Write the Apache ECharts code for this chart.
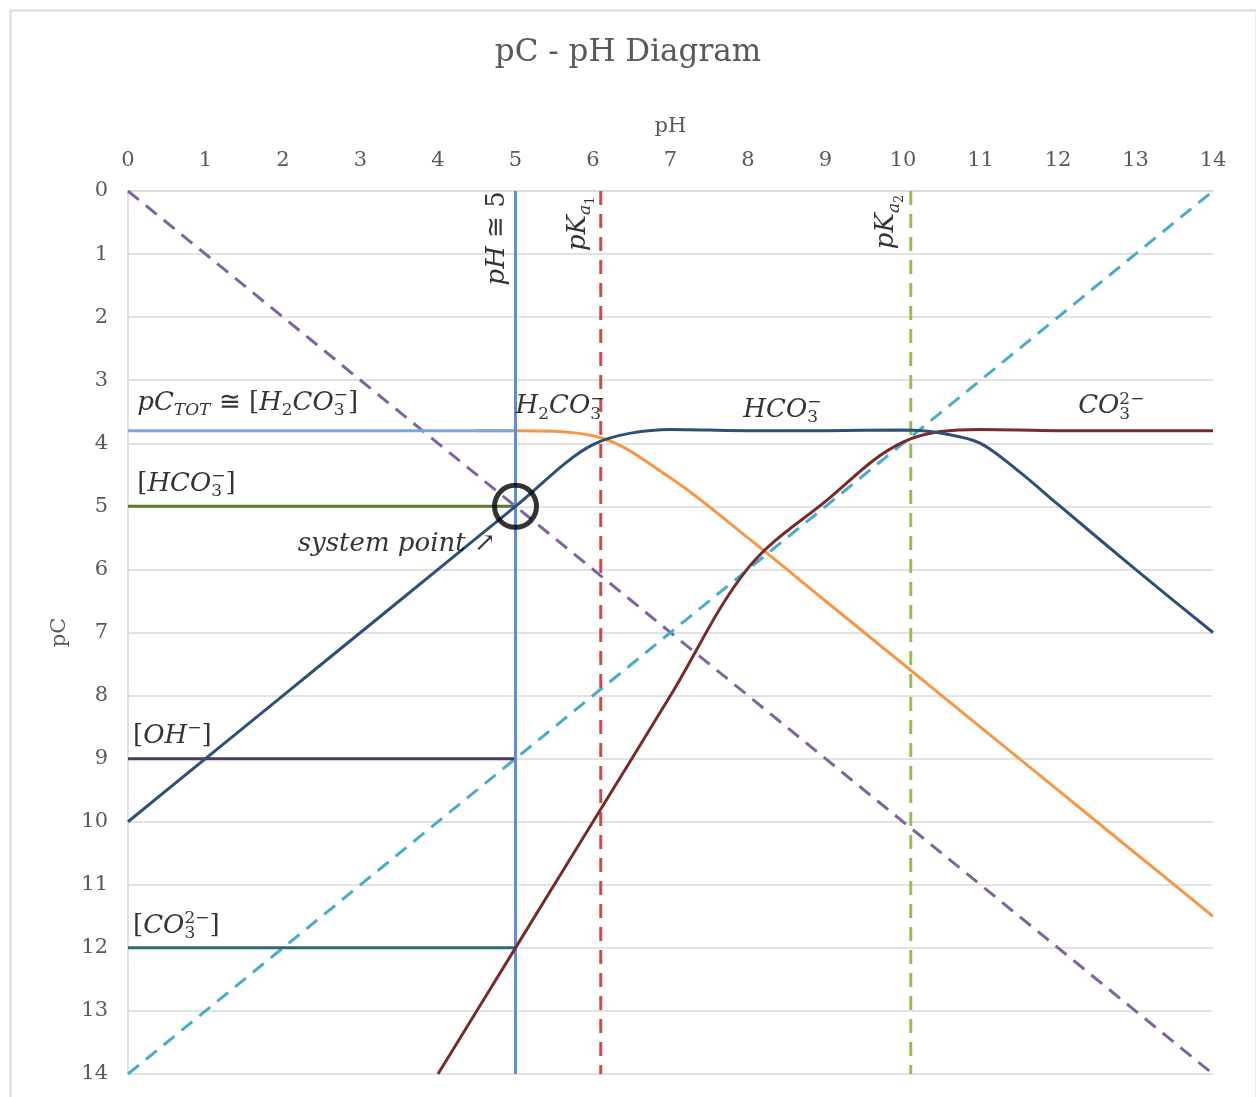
<!DOCTYPE html>
<html>
<head>
<meta charset="utf-8">
<script src="https://cdn.jsdelivr.net/npm/echarts@6/dist/echarts.min.js"></script>
<style>
html,body{margin:0;padding:0;background:#fff;}
#chart{width:1256px;height:1097px;}
</style>
</head>
<body>
<div id="chart"></div>
<script>
// ---- data ----
const pHTicks = [0,1,2,3,4,5,6,7,8,9,10,11,12,13,14];
const pCTicks = [0,1,2,3,4,5,6,7,8,9,10,11,12,13,14];
const hPlusLine = [[0,0],[14,14]];          // pC = pH  ([H+])
const ohMinusLine = [[0,14],[14,0]];        // pC = 14 - pH  ([OH-])
const systemPH = 5;
const pKa1 = 6.1;
const pKa2 = 10.1;
const pCtot = 3.8;
const hco3Level = 5;
const ohLevel = 9;
const co3Level = 12;
const h2co3Curve = [[4.5,3.8],[5,3.8],[6,3.88],[7,4.55],[8,5.5],[9,6.5],[10,7.5],[11,8.5],[12,9.5],[13,10.5],[14,11.5]];
const hco3Curve = [[0,10],[1,9],[2,8],[3,7],[4,6],[5,5],[6,4.02],[7,3.78],[8,3.8],[9,3.8],[10,3.79],[10.5,3.84],[11,4.0],[11.5,4.45],[12,4.97],[13,6],[14,7]];
const co3Curve = [[4,14],[5,12],[6,10],[7,8],[8,5.98],[9,4.92],[10,3.98],[11,3.78],[12,3.8],[13,3.8],[14,3.8]];
const systemPoint = [5,5];

// ---- annotation anchors (data coordinates) ----
const annot = {
  pctot:  [0.12, 3.36],
  hco3L:  [0.12, 4.65],
  sysPt:  [2.19, 5.6],
  ohL:    [0.065, 8.64],
  co3L:   [0.065, 11.65],
  h2co3T: [5.0, 3.42],
  hco3T:  [7.94, 3.47],
  co3T:   [12.26, 3.42],
  ph5:    [4.76, 0.75],
  pka1:   [5.81, 0.52],
  pka2:   [9.79, 0.49]
};

const SERIF = '"DejaVu Serif", "Liberation Serif", serif';
const FS = 26;
const rich = {
  i:   {fontFamily: SERIF, fontStyle: 'italic', fontSize: FS, color: '#000'},
  n:   {fontFamily: SERIF, fontSize: FS, color: '#000'},
  sb:  {fontFamily: SERIF, fontSize: 17, color: '#000', padding: [15,0,0,0]},
  sbi: {fontFamily: SERIF, fontStyle: 'italic', fontSize: 17, color: '#000', padding: [15,0,0,0]},
  sb0: {fontFamily: SERIF, fontSize: 17, color: '#000', padding: [15,0,0,0], width: 0},
  sp:  {fontFamily: SERIF, fontSize: 17, color: '#000', padding: [0,0,15,0]},
  ssb: {fontFamily: SERIF, fontSize: 13, color: '#000', padding: [25,0,0,0]}
};

function labelItem(pos, text, opts) {
  return {
    value: pos,
    label: Object.assign({
      show: true, formatter: text, rich: rich, position: 'right', distance: 0,
      color: '#000', textBorderWidth: 0
    }, opts || {})
  };
}

const labelData = [
  labelItem(annot.pctot, '{i|pC}{sbi|TOT}{n| ≅ [}{i|H}{sb|2}{i|CO}{sb0|3}{sp|−}{n|]}'),
  labelItem(annot.hco3L, '{n|[}{i|HCO}{sb0|3}{sp|−}{n|]}'),
  labelItem(annot.sysPt, '{i|system point}{n| ↗}'),
  labelItem(annot.ohL, '{n|[}{i|OH}{sp|−}{n|]}'),
  labelItem(annot.co3L, '{n|[}{i|CO}{sb0|3}{sp|2−}{n|]}'),
  labelItem(annot.h2co3T, '{i|H}{sb|2}{i|CO}{sb0|3}{sp|−}'),
  labelItem(annot.hco3T, '{i|HCO}{sb0|3}{sp|−}'),
  labelItem(annot.co3T, '{i|CO}{sb0|3}{sp|2−}'),
  labelItem(annot.ph5, '{i|pH}{n| ≅ 5}', {position: 'inside', rotate: 90}),
  labelItem(annot.pka1, '{i|pK}{sbi|a}{ssb|1}', {position: 'inside', rotate: 90}),
  labelItem(annot.pka2, '{i|pK}{sbi|a}{ssb|2}', {position: 'inside', rotate: 90})
];

function lineSeries(name, data, color, opts) {
  return Object.assign({
    name: name, type: 'line', data: data, symbol: 'none', silent: true,
    lineStyle: {color: color, width: 3}, z: 3
  }, opts || {});
}
const dash = [14, 9];

const chart = echarts.init(document.getElementById('chart'), null, {renderer: 'canvas'});
chart.setOption({
  animation: false,
  backgroundColor: '#fff',
  title: {
    text: 'pC - pH Diagram', left: 'center', top: 37, padding: 0,
    textStyle: {fontFamily: SERIF, fontSize: 31, fontWeight: 'normal', color: '#595959'}
  },
  graphic: [{
    type: 'rect', left: 8, top: 8, z: 0,
    shape: {width: 1246, height: 1110},
    style: {fill: 'none', stroke: '#d9d9d9', lineWidth: 2}
  }],
  grid: {left: 128, right: 43, top: 191, bottom: 23},
  xAxis: {
    type: 'value', position: 'top', min: pHTicks[0], max: pHTicks[pHTicks.length-1], interval: 1,
    name: 'pH', nameLocation: 'middle', nameGap: 54,
    nameTextStyle: {fontFamily: SERIF, fontSize: 21, color: '#595959'},
    axisLine: {show: true, lineStyle: {color: '#d9d9d9', width: 1.5}},
    axisTick: {show: false},
    axisLabel: {fontFamily: SERIF, fontSize: 21, color: '#595959', margin: 20},
    splitLine: {show: false}
  },
  yAxis: {
    type: 'value', inverse: true, min: pCTicks[0], max: pCTicks[pCTicks.length-1], interval: 1,
    name: 'pC', nameLocation: 'middle', nameGap: 58,
    nameTextStyle: {fontFamily: SERIF, fontSize: 21, color: '#595959'},
    axisLine: {show: true, lineStyle: {color: '#d9d9d9', width: 1.5}},
    axisTick: {show: false},
    axisLabel: {fontFamily: SERIF, fontSize: 21, color: '#595959', margin: 20},
    splitLine: {show: true, lineStyle: {color: '#d9d9d9', width: 1.5}}
  },
  series: [
    lineSeries('H+', hPlusLine, '#8064a2', {lineStyle: {color: '#8064a2', width: 3, type: dash}}),
    lineSeries('OH-', ohMinusLine, '#4bacc6', {lineStyle: {color: '#4bacc6', width: 3, type: dash}}),
    lineSeries('pKa1', [[pKa1, pCTicks[0]], [pKa1, pCTicks[pCTicks.length-1]]], '#c0504d', {lineStyle: {color: '#c0504d', width: 3, type: dash}}),
    lineSeries('pKa2', [[pKa2, pCTicks[0]], [pKa2, pCTicks[pCTicks.length-1]]], '#9bbb59', {lineStyle: {color: '#9bbb59', width: 3, type: dash}}),
    lineSeries('H2CO3', h2co3Curve, '#f79646', {smooth: 0.35}),
    lineSeries('pCtot', [[0, pCtot], [systemPH, pCtot]], '#7ba7dc'),
    lineSeries('HCO3 level', [[0, hco3Level], [systemPH, hco3Level]], '#5b7a2e'),
    lineSeries('OH level', [[0, ohLevel], [systemPH, ohLevel]], '#4b3863'),
    lineSeries('CO3 level', [[0, co3Level], [systemPH, co3Level]], '#2a6875'),
    lineSeries('pH=5', [[systemPH, pCTicks[0]], [systemPH, pCTicks[pCTicks.length-1]]], '#5b8fd6'),
    lineSeries('CO3', co3Curve, '#772c2a', {smooth: 0.35}),
    lineSeries('HCO3', hco3Curve, '#2f4f78', {smooth: 0.3}),
    {
      type: 'scatter', data: [systemPoint], symbol: 'circle', symbolSize: 42, silent: true, z: 5,
      itemStyle: {color: 'rgba(0,0,0,0)', borderColor: '#000', borderWidth: 5}
    },
    {
      type: 'scatter', data: labelData, symbolSize: 0, silent: true, z: 6,
      itemStyle: {color: 'rgba(0,0,0,0)'}
    }
  ]
});
</script>
</body>
</html>
